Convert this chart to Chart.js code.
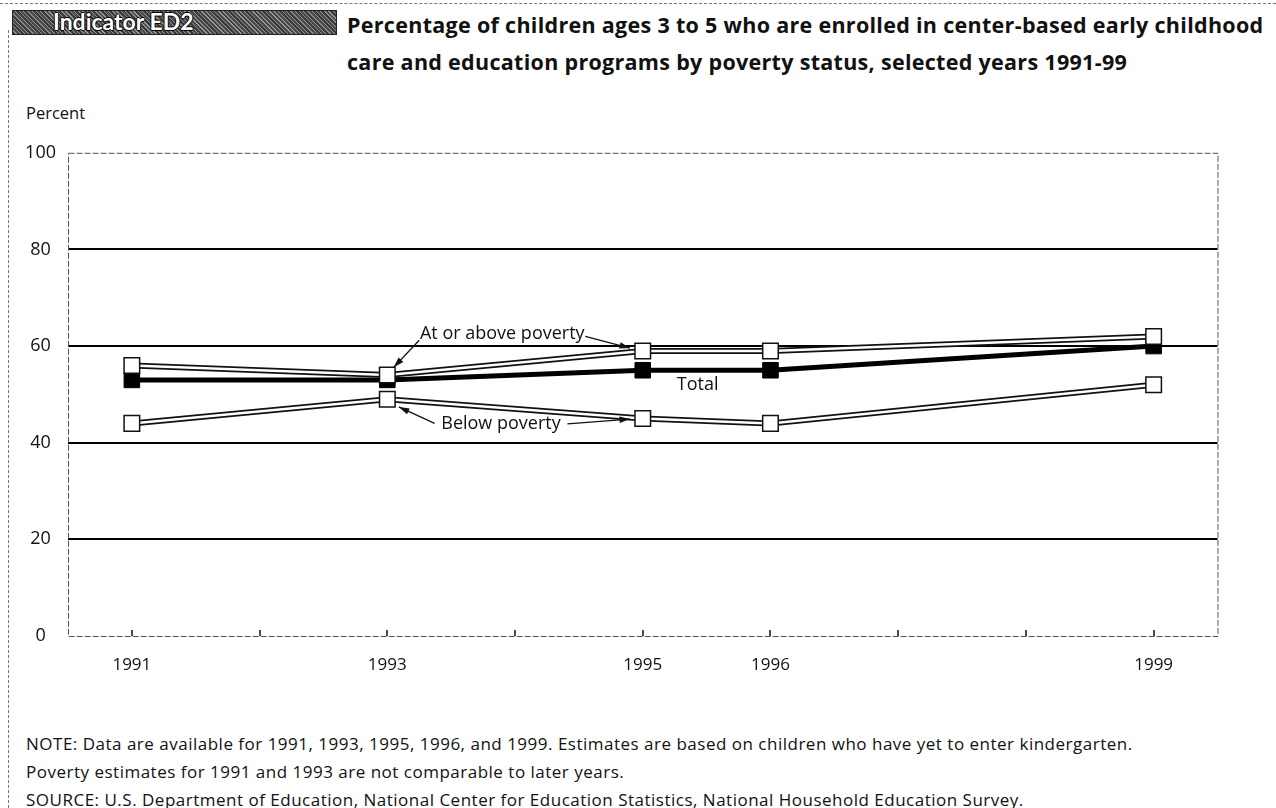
<!DOCTYPE html>
<html>
<head>
<meta charset="utf-8">
<script src="https://cdn.jsdelivr.net/npm/chart.js@4/dist/chart.umd.min.js"></script>
<style>
  body { margin: 0; background: #fff; width: 1276px; height: 808px; overflow: hidden; position: relative; font-family: "Open Sans", Lato, sans-serif; color: #111; }
  .topline { position: absolute; left: 0; top: 3px; width: 1276px; border-top: 1px dashed #777; }
  .leftline { position: absolute; left: 8px; top: 30px; height: 778px; border-left: 1px dashed #777; }
  .badge { position: absolute; left: 12px; top: 10px; width: 323px; height: 23px;
    background: repeating-linear-gradient(45deg, #3a3a3a 0 2px, #8a8a8a 2px 3px, #4a4a4a 3px 5px, #999 5px 6px);
    border: 1px solid #222; }
  .badge span { position: absolute; left: 40px; top: -4px; color: #fff; font-family: Lato, sans-serif; font-weight: bold; font-size: 23px;
    text-shadow: -1px 0 #000, 1px 0 #000, 0 1px #000, 0 -1px #000; }
  .title { position: absolute; left: 347px; top: 6px; font-weight: bold; font-size: 21.5px; letter-spacing: 0.3px; line-height: 37px; }
  .ylabel { position: absolute; left: 26px; top: 101px; font-size: 16.5px; }
  .note { position: absolute; left: 26px; top: 730px; font-size: 17px; letter-spacing: 0.5px; line-height: 28px; }
  #wrap { position: absolute; left: 0; top: 130px; width: 1230px; height: 560px; }
</style>
</head>
<body>
<div class="topline"></div>
<div class="leftline"></div>
<div class="badge"><span>Indicator ED2</span></div>
<div class="title">Percentage of children ages 3 to 5 who are enrolled in center-based early childhood<br>care and education programs by poverty status, selected years 1991-99</div>
<div class="ylabel">Percent</div>
<div id="wrap"><canvas id="chart"></canvas></div>
<div class="note">NOTE: Data are available for 1991, 1993, 1995, 1996, and 1999. Estimates are based on children who have yet to enter kindergarten.<br>Poverty estimates for 1991 and 1993 are not comparable to later years.<br>SOURCE: U.S. Department of Education, National Center for Education Statistics, National Household Education Survey.</div>

<script>
// data
var years = [1991, 1993, 1995, 1996, 1999];
var totalValues = [53, 53, 55, 55, 60];
var aboveValues = [56, 54, 59, 59, 62];
var belowValues = [44, 49, 45, 44, 52];
var tickYears = [1991, 1992, 1993, 1994, 1995, 1996, 1997, 1998, 1999];
var labelYears = [1991, 1993, 1995, 1996, 1999];
var yTicks = [0, 20, 40, 60, 80, 100];

// text labels placed in data units
var notes = [
    { text: "At or above poverty", x: 1993.9, y: 62.5 },
    { text: "Below poverty", x: 1993.89, y: 43.9 },
    { text: "Total", x: 1995.43, y: 52 }
];
var arrows = [
    { from: [1993.25, 61.2], to: [1993.05, 55.6] },
    { from: [1994.55, 62.0], to: [1994.9, 59.6] },
    { from: [1993.37, 44.0], to: [1993.09, 47.4] },
    { from: [1994.41, 43.9], to: [1994.9, 44.9] }
];

function points(values) {
    return years.map(function (yr, i) { return { x: yr, y: values[i] }; });
}

// frame, upward tick marks and the annotations
var extras = {
    id: "extras",
    beforeDatasetsDraw: function (chart) {
        var ctx = chart.ctx, a = chart.chartArea, xs = chart.scales.x;
        ctx.save();
        ctx.strokeStyle = "#555";
        ctx.lineWidth = 1;
        ctx.setLineDash([6, 2]);
        ctx.strokeRect(a.left + 0.5, a.top + 0.5, a.right - a.left, a.bottom - a.top);
        ctx.setLineDash([]);
        ctx.strokeStyle = "#111";
        ctx.lineWidth = 1.5;
        tickYears.forEach(function (yr) {
            var px = Math.round(xs.getPixelForValue(yr));
            ctx.beginPath();
            ctx.moveTo(px, a.bottom);
            ctx.lineTo(px, a.bottom - 6);
            ctx.stroke();
        });
        ctx.restore();
    },
    afterDatasetsDraw: function (chart) {
        var ctx = chart.ctx, xs = chart.scales.x, ys = chart.scales.y;
        ctx.save();
        ctx.fillStyle = "#111";
        ctx.font = "18px 'Open Sans'";
        ctx.textAlign = "center";
        ctx.textBaseline = "middle";
        notes.forEach(function (n) {
            ctx.fillText(n.text, xs.getPixelForValue(n.x), ys.getPixelForValue(n.y));
        });
        ctx.strokeStyle = "#111";
        ctx.lineWidth = 1.3;
        arrows.forEach(function (ar) {
            var x1 = xs.getPixelForValue(ar.from[0]), y1 = ys.getPixelForValue(ar.from[1]);
            var x2 = xs.getPixelForValue(ar.to[0]), y2 = ys.getPixelForValue(ar.to[1]);
            var ang = Math.atan2(y2 - y1, x2 - x1);
            ctx.beginPath();
            ctx.moveTo(x1, y1);
            ctx.lineTo(x2, y2);
            ctx.stroke();
            ctx.beginPath();
            ctx.moveTo(x2, y2);
            ctx.lineTo(x2 - 11 * Math.cos(ang - 0.3), y2 - 11 * Math.sin(ang - 0.3));
            ctx.lineTo(x2 - 11 * Math.cos(ang + 0.3), y2 - 11 * Math.sin(ang + 0.3));
            ctx.closePath();
            ctx.fill();
        });
        ctx.restore();
    }
};

var ctx = document.getElementById("chart").getContext("2d");
new Chart(ctx, {
    type: "line",
    data: {
        datasets: [{
            label: "At or above poverty",
            data: points(aboveValues),
            borderColor: "#fff",
            borderWidth: 2.5,
            pointStyle: "rect",
            pointRadius: 11,
            pointBackgroundColor: "#fff",
            pointBorderColor: "#111",
            pointBorderWidth: 1.5,
            order: 0
        }, {
            label: "At or above outline",
            data: points(aboveValues),
            borderColor: "#111",
            borderWidth: 6,
            pointRadius: 0,
            order: 1
        }, {
            label: "Total",
            data: points(totalValues),
            borderColor: "#000",
            borderWidth: 5,
            pointStyle: "rect",
            pointRadius: 11,
            pointBackgroundColor: "#000",
            pointBorderColor: "#000",
            pointBorderWidth: 1,
            order: 2
        }, {
            label: "Below poverty",
            data: points(belowValues),
            borderColor: "#fff",
            borderWidth: 2.5,
            pointStyle: "rect",
            pointRadius: 11,
            pointBackgroundColor: "#fff",
            pointBorderColor: "#111",
            pointBorderWidth: 1.5,
            order: 3
        }, {
            label: "Below outline",
            data: points(belowValues),
            borderColor: "#111",
            borderWidth: 6,
            pointRadius: 0,
            order: 4
        }]
    },
    options: {
        responsive: true,
        maintainAspectRatio: false,
        animation: false,
        layout: { padding: { top: 18, right: 11, left: 0, bottom: 0 } },
        plugins: { legend: { display: false }, tooltip: { enabled: false } },
        scales: {
            x: {
                type: "linear",
                min: 1990.5,
                max: 1999.5,
                afterBuildTicks: function (scale) {
                    scale.ticks = tickYears.map(function (v) { return { value: v }; });
                },
                afterFit: function (scale) { scale.height = 54; },
                grid: { display: false },
                border: { display: false },
                ticks: {
                    autoSkip: false,
                    maxRotation: 0,
                    padding: 11,
                    color: "#111",
                    font: { family: "Open Sans", size: 17 },
                    callback: function (v) { return labelYears.indexOf(v) >= 0 ? String(v) : ""; }
                }
            },
            y: {
                min: 0,
                max: 100,
                afterBuildTicks: function (scale) {
                    scale.ticks = yTicks.map(function (v) { return { value: v }; });
                },
                afterFit: function (scale) { scale.width = 68; },
                grid: {
                    drawTicks: false,
                    lineWidth: 2,
                    color: function (c) {
                        var v = c.tick ? c.tick.value : 0;
                        return (v === 0 || v === 100) ? "rgba(0,0,0,0)" : "#000";
                    }
                },
                border: { display: false },
                ticks: {
                    padding: 12,
                    crossAlign: "center",
                    color: "#111",
                    font: { family: "Open Sans", size: 18 }
                }
            }
        }
    },
    plugins: [extras]
});
</script>
</body>
</html>
